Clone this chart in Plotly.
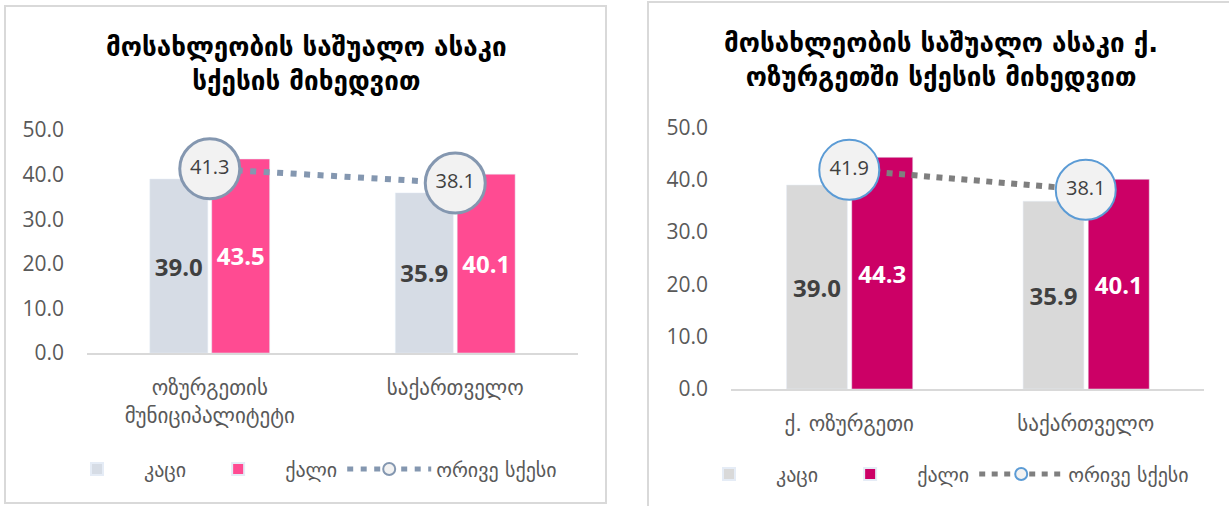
import plotly.graph_objects as go

# ---------------- data ----------------
left_categories = ["ოზურგეთის<br>მუნიციპალიტეტი", "საქართველო"]
left_men = [39.0, 35.9]
left_women = [43.5, 40.1]
left_both = [41.3, 38.1]

right_categories = ["ქ. ოზურგეთი", "საქართველო"]
right_men = [39.0, 35.9]
right_women = [44.3, 40.1]
right_both = [41.9, 38.1]

series_names = ["კაცი", "ქალი", "ორივე სქესი"]
left_title = "მოსახლეობის საშუალო ასაკი<br>სქესის მიხედვით"
right_title = "მოსახლეობის საშუალო ასაკი ქ.<br>ოზურგეთში სქესის მიხედვით"
y_ticks = [0, 10, 20, 30, 40, 50]

W, H = 1229, 506
FONT = "Open Sans, DejaVu Sans, sans-serif"
GEO = "DejaVu Sans, sans-serif"

def px(x):
    return x / W

def py(y):
    return 1 - y / H

def fmt(v):
    return [f"{a:.1f}" for a in v]

fig = go.Figure()

# ---------- left panel ----------
fig.add_trace(go.Bar(
    x=left_categories, y=left_men, name=series_names[0], xaxis="x", yaxis="y",
    marker=dict(color="#d6dce5"), width=0.236, offset=-0.244,
    text=fmt(left_men), textposition="inside", insidetextanchor="middle",
    textangle=0, textfont=dict(family=FONT, size=24, color="#404040", weight="bold"),
    legend="legend", hoverinfo="skip"))
fig.add_trace(go.Bar(
    x=left_categories, y=left_women, name=series_names[1], xaxis="x", yaxis="y",
    marker=dict(color="#ff4b92"), width=0.236, offset=0.008,
    text=fmt(left_women), textposition="inside", insidetextanchor="middle",
    textangle=0, textfont=dict(family=FONT, size=24, color="#ffffff", weight="bold"),
    legend="legend", hoverinfo="skip"))
fig.add_trace(go.Scatter(
    x=left_categories, y=left_both, name=series_names[2], xaxis="x", yaxis="y",
    mode="lines+markers+text", text=fmt(left_both), textposition="middle center",
    textfont=dict(family=FONT, size=20, color="#404040"),
    line=dict(color="#8497b0", width=6, dash="6px,7.5px"),
    marker=dict(size=60, color="#f2f2f2", line=dict(color="#8497b0", width=3)),
    cliponaxis=False, legend="legend", hoverinfo="skip"))

# ---------- right panel ----------
fig.add_trace(go.Bar(
    x=right_categories, y=right_men, name=series_names[0], xaxis="x2", yaxis="y2",
    marker=dict(color="#d9d9d9"), width=0.257, offset=-0.265,
    text=fmt(right_men), textposition="inside", insidetextanchor="middle",
    textangle=0, textfont=dict(family=FONT, size=24, color="#404040", weight="bold"),
    legend="legend2", hoverinfo="skip"))
fig.add_trace(go.Bar(
    x=right_categories, y=right_women, name=series_names[1], xaxis="x2", yaxis="y2",
    marker=dict(color="#cc0066"), width=0.258, offset=0.0105,
    text=fmt(right_women), textposition="inside", insidetextanchor="middle",
    textangle=0, textfont=dict(family=FONT, size=24, color="#ffffff", weight="bold"),
    legend="legend2", hoverinfo="skip"))
fig.add_trace(go.Scatter(
    x=right_categories, y=right_both, name=series_names[2], xaxis="x2", yaxis="y2",
    mode="lines+markers+text", text=fmt(right_both), textposition="middle center",
    textfont=dict(family=FONT, size=20, color="#404040"),
    line=dict(color="#7f7f7f", width=6, dash="6px,6.5px"),
    marker=dict(size=60, color="#f2f2f2", line=dict(color="#5b9bd5", width=2)),
    cliponaxis=False, legend="legend2", hoverinfo="skip"))

xcommon = dict(type="category", showgrid=False, zeroline=False, showline=True,
               linecolor="#d9d9d9", linewidth=2, ticks="", ticklabelstandoff=15,
               tickfont=dict(family=GEO, size=21, color="#595959"), fixedrange=True)
ycommon = dict(range=[0, 50], tickvals=y_ticks, tickformat=".1f", showgrid=False,
               zeroline=False, showline=False, ticks="", ticklabelstandoff=22,
               tickfont=dict(family=FONT, size=21, color="#595959"), fixedrange=True)

legcommon = dict(orientation="h", font=dict(family=GEO, size=20, color="#595959"),
                 bgcolor="rgba(0,0,0,0)", itemsizing="constant", itemwidth=84,
                 yanchor="middle", xanchor="left", tracegroupgap=0)

fig.update_layout(
    width=W, height=H, margin=dict(l=0, r=0, t=0, b=0, autoexpand=False),
    paper_bgcolor="white", plot_bgcolor="white",
    barmode="overlay", showlegend=True,
    xaxis=dict(domain=[px(87), px(578)], anchor="y", **xcommon),
    yaxis=dict(domain=[py(353), py(130)], anchor="x", **ycommon),
    xaxis2=dict(domain=[px(731), px(1204)], anchor="y2", **xcommon),
    yaxis2=dict(domain=[py(389), py(127.5)], anchor="x2", **ycommon),
    legend=dict(x=px(50), y=py(469), **legcommon),
    legend2=dict(x=px(682), y=py(474), **legcommon),
    shapes=[
        dict(type="rect", xref="paper", yref="paper", x0=px(5), x1=px(606),
             y0=py(503), y1=py(6), line=dict(color="#d9d9d9", width=2), layer="below"),
        dict(type="rect", xref="paper", yref="paper", x0=px(648), x1=px(1240),
             y0=py(520), y1=py(2), line=dict(color="#d9d9d9", width=2), layer="below"),
    ],
    annotations=[
        dict(text=left_title, xref="paper", yref="paper", x=px(306), y=py(64),
             xanchor="center", yanchor="middle", showarrow=False, align="center",
             font=dict(family=GEO, size=26, color="#000000", weight="bold")),
        dict(text=right_title, xref="paper", yref="paper", x=px(941), y=py(60),
             xanchor="center", yanchor="middle", showarrow=False, align="center",
             font=dict(family=GEO, size=26, color="#000000", weight="bold")),
    ],
)

fig.write_html("out.html", config={"displayModeBar": False},
               post_script="document.body.style.margin='0';document.body.style.overflow='hidden';")
